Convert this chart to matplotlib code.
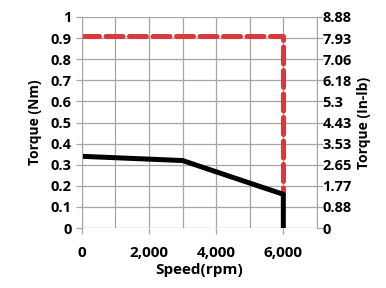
import matplotlib as mpl
import matplotlib.pyplot as plt
from matplotlib.ticker import MultipleLocator

mpl.rcParams['font.family'] = ['Open Sans', 'DejaVu Sans']
mpl.rcParams['font.weight'] = 'bold'

# data
speed_limit = [0, 6000, 6000]
torque_limit = [0.91, 0.91, 0.16]
speed_curve = [0, 3000, 6000, 6000]
torque_curve = [0.34, 0.32, 0.16, 0.0]
left_ticks = [0, 0.1, 0.2, 0.3, 0.4, 0.5, 0.6, 0.7, 0.8, 0.9, 1]
right_labels = ['0', '0.88', '1.77', '2.65', '3.53', '4.43', '5.3', '6.18', '7.06', '7.93', '8.88']
x_ticks = [0, 2000, 4000, 6000]

fig = plt.figure(figsize=(3.86, 2.88), dpi=100)
ax = fig.add_axes([0.212, 0.208, 0.609, 0.733])
ax.set_xlim(0, 7000)
ax.set_ylim(0, 1)
ax.xaxis.set_minor_locator(MultipleLocator(1000))
ax.grid(True, which='both', color='#a6a6a6', lw=0.9)
ax.set_axisbelow(True)
ax.plot(speed_limit, torque_limit, color='#d9393a', lw=3.6, ls=(0, (3.4, 1.3)), solid_capstyle='round', dash_capstyle='round')
ax.plot(speed_curve, torque_curve, color='black', lw=3.6, solid_capstyle='round', solid_joinstyle='round')

ax.set_xticks(x_ticks)
ax.set_xticklabels(['0', '2,000', '4,000', '6,000'])
ax.set_yticks(left_ticks)
ax.set_yticklabels([('%g' % v) for v in left_ticks])
ax.tick_params(axis='both', labelsize=10.5, color='#a6a6a6', length=4, width=0.9)
ax.tick_params(axis='x', which='major', labelsize=11, pad=9)
ax.tick_params(axis='x', which='minor', length=0)
for s in ax.spines.values():
    s.set_visible(False)
ax.spines['left'].set_visible(True)
ax.spines['left'].set_color('#a6a6a6')
ax.set_xlabel('Speed(rpm)', fontsize=11, fontweight='bold', labelpad=2)
ax.set_ylabel('Torque (Nm)', fontsize=10, fontweight='bold', labelpad=6)

ax2 = ax.twinx()
ax2.set_ylim(0, 1)
ax2.set_yticks(left_ticks)
ax2.set_yticklabels(right_labels)
ax2.tick_params(axis='y', labelsize=10.5, color='#a6a6a6', length=4, width=0.9, pad=0)
for s in ax2.spines.values():
    s.set_visible(False)
ax2.spines['right'].set_visible(True)
ax2.spines['right'].set_color('#a6a6a6')
ax2.set_ylabel('Torque (In-lb)', fontsize=10, fontweight='bold', labelpad=4)

fig.savefig('out.png', dpi=100)
